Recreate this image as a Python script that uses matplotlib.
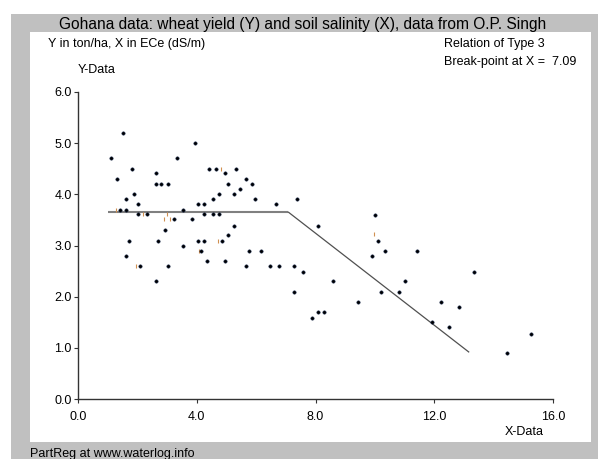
import matplotlib
matplotlib.use('Agg')
import matplotlib.pyplot as plt
from matplotlib.patches import Rectangle

plt.rcParams['font.family'] = ['Liberation Sans', 'DejaVu Sans']

# Observed data: soil salinity X (ECe, dS/m) and wheat yield Y (ton/ha)
x_data = [1.10, 1.52, 1.31, 1.81, 1.90, 1.61, 2.01, 1.43, 1.61, 2.01,
          2.32, 1.71, 1.61, 2.10, 2.62, 2.62, 2.62, 2.81, 3.03, 3.32,
          3.95, 2.94, 2.70, 3.03, 3.23, 3.84, 3.52, 3.52, 4.04, 4.05,
          4.23, 4.42, 4.66, 5.33, 4.95, 5.65, 5.04, 5.86, 5.46, 4.75,
          5.24, 4.56, 5.95, 7.37, 6.67, 4.23, 4.56, 4.75, 5.24, 5.04,
          4.23, 4.85, 4.13, 5.75, 6.18, 4.33, 4.95, 5.65, 6.46, 6.76,
          7.27, 7.57, 7.27, 9.99, 8.09, 10.09, 10.33, 9.90, 8.58, 10.19,
          10.81, 9.42, 8.09, 8.27, 7.89, 11.41, 13.33, 11.03, 12.22, 12.84,
          11.93, 12.51, 15.27, 14.45]
y_data = [4.71, 5.20, 4.30, 4.50, 4.00, 3.90, 3.81, 3.70, 3.70, 3.61,
          3.61, 3.09, 2.79, 2.60, 2.30, 4.41, 4.21, 4.21, 4.21, 4.71,
          5.01, 3.30, 3.09, 2.60, 3.51, 3.51, 3.70, 3.00, 3.09, 3.81,
          3.81, 4.50, 4.50, 4.50, 4.41, 4.30, 4.21, 4.21, 4.11, 4.00,
          4.00, 3.90, 3.90, 3.90, 3.81, 3.61, 3.61, 3.61, 3.39, 3.20,
          3.09, 3.09, 2.90, 2.90, 2.90, 2.70, 2.70, 2.60, 2.60, 2.60,
          2.60, 2.49, 2.10, 3.60, 3.39, 3.09, 2.90, 2.79, 2.30, 2.10,
          2.10, 1.89, 1.70, 1.70, 1.59, 2.90, 2.49, 2.30, 1.89, 1.79,
          1.50, 1.40, 1.28, 0.89]

# points that show only as a faint sliver in the original
faint_x = [1.28, 2.18, 2.99, 2.90, 3.10, 1.95, 4.09, 4.81, 4.71, 9.96]
faint_y = [3.70, 3.61, 3.61, 3.51, 3.51, 2.60, 2.90, 4.50, 3.09, 3.22]

# fitted broken-line relation (type 3), break-point at X = 7.09
flat_x = [1.0, 7.09]
flat_y = [3.65, 3.65]
slope_x = [7.09, 13.16]
slope_y = [3.65, 0.92]

x_ticks = [0, 4, 8, 12, 16]
y_ticks = [0, 1, 2, 3, 4, 5, 6]

W, H = 598, 459
fig = plt.figure(figsize=(W / 100, H / 100), dpi=100)
fig.patch.set_facecolor('white')

def px_rect(x0, y0, x1, y1, color):
    fig.add_artist(Rectangle((x0 / W, 1 - y1 / H), (x1 - x0) / W, (y1 - y0) / H,
                             transform=fig.transFigure, facecolor=color,
                             edgecolor='none', zorder=-10))

px_rect(11, 14, W, H, '#c0c0c0')
px_rect(30, 32, 591, 442, 'white')

ax = fig.add_axes([78 / W, 1 - 399 / H, (553 - 78) / W, (399 - 92) / H])
ax.set_facecolor('none')

ax.plot(flat_x, flat_y, color='#808080', lw=1.5, solid_capstyle='butt')
ax.plot(slope_x, slope_y, color='#505050', lw=0.9)
ax.plot(faint_x, faint_y, linestyle='none', marker='|', ms=3, mew=0.8, color='#d09050')
ax.plot(x_data, y_data, linestyle='none', marker='o', ms=2.4, mec='#102040',
        mfc='black', mew=0.4)

ax.set_xlim(0, 16)
ax.set_ylim(0, 6)
ax.set_xticks(x_ticks)
ax.set_xticklabels([f'{v:.1f}' for v in x_ticks])
ax.set_yticks(y_ticks)
ax.set_yticklabels([f'{v:.1f}' for v in y_ticks])
for s in ['top', 'right']:
    ax.spines[s].set_visible(False)
for s in ['left', 'bottom']:
    ax.spines[s].set_color('#333333')
    ax.spines[s].set_linewidth(1.0)
ax.tick_params(direction='out', length=3, width=0.8, colors='#333333',
               labelcolor='black', labelsize=9)
ax.tick_params(axis='y', pad=1.5)
ax.tick_params(axis='x', pad=6)

fig.text(59 / W, 1 - 25 / H, 'Gohana data: wheat yield (Y) and soil salinity (X), data from O.P. Singh',
         fontsize=11.2, va='center', ha='left')
fig.text(48 / W, 1 - 44 / H, 'Y in ton/ha, X in ECe (dS/m)', fontsize=9, va='center')
fig.text(444 / W, 1 - 44 / H, 'Relation of Type 3', fontsize=9, va='center')
fig.text(444 / W, 1 - 62 / H, 'Break-point at X =  7.09', fontsize=9, va='center')
fig.text(78 / W, 1 - 70 / H, 'Y-Data', fontsize=9, va='center')
fig.text(505 / W, 1 - 432 / H, 'X-Data', fontsize=9, va='center')
fig.text(30 / W, 1 - 454 / H, 'PartReg at www.waterlog.info', fontsize=9, va='center')

fig.savefig('out.png', dpi=100)
